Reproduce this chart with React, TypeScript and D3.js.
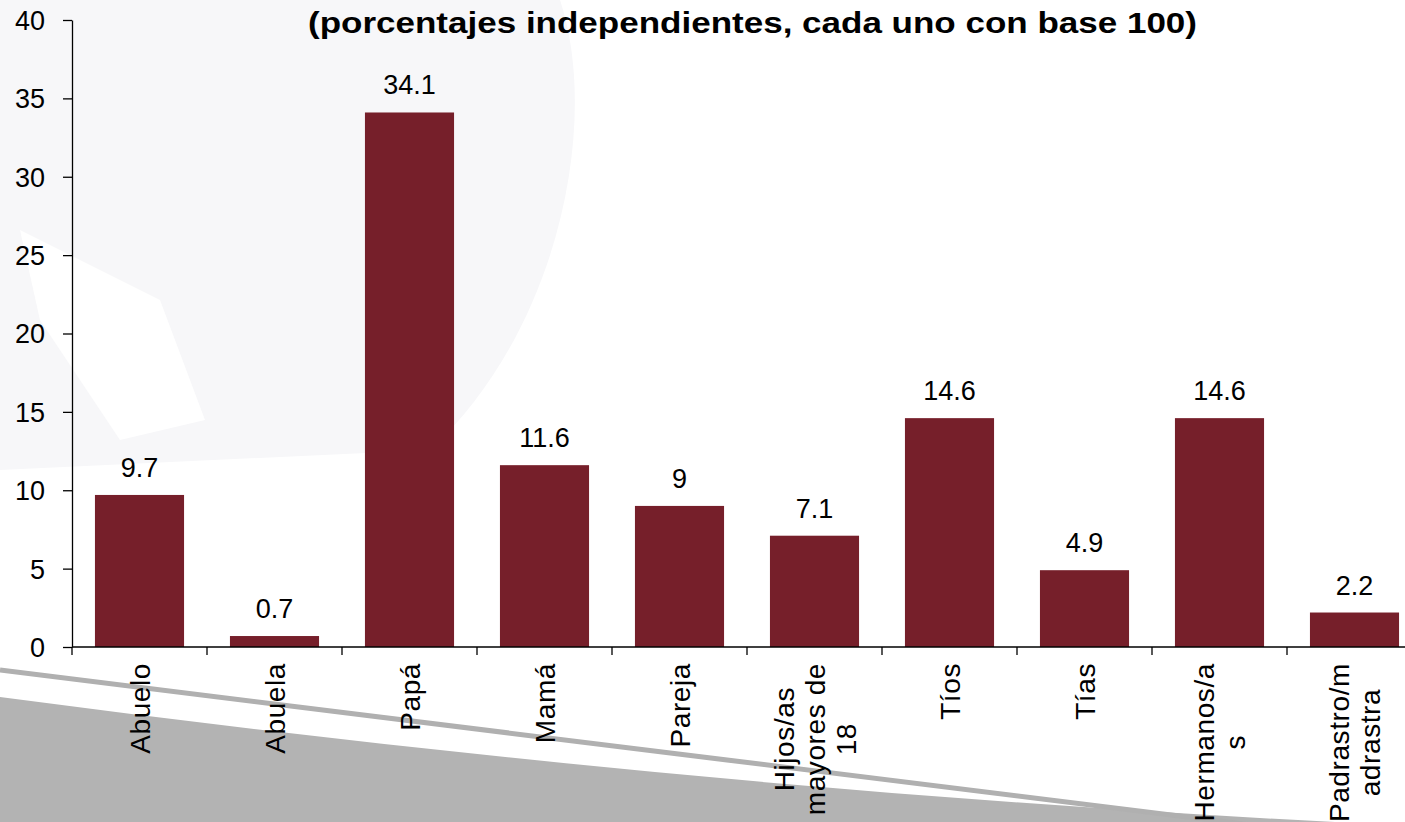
import { useEffect, useRef } from "react";
import * as d3 from "d3";

// data
const categories = [
  "Abuelo",
  "Abuela",
  "Papá",
  "Mamá",
  "Pareja",
  "Hijos/as\nmayores de\n18",
  "Tíos",
  "Tías",
  "Hermanos/a\ns",
  "Padrastro/m\nadrastra",
];
const values = [9.7, 0.7, 34.1, 11.6, 9, 7.1, 14.6, 4.9, 14.6, 2.2];
const yTicks = [0, 5, 10, 15, 20, 25, 30, 35, 40];
const title = "(porcentajes independientes, cada uno con base 100)";

const W = 1405;
const H = 822;
const FONT = "'Liberation Sans', Arial, sans-serif";

export default function App() {
  const ref = useRef<SVGSVGElement | null>(null);

  useEffect(() => {
    const svg = d3.select(ref.current);
    svg.selectAll("*").remove();

    const x0 = 72;
    const x = d3
      .scaleBand<string>()
      .domain(categories)
      .range([x0, x0 + 135 * categories.length])
      .paddingInner(0.34)
      .paddingOuter(0.17);
    const y = d3.scaleLinear().domain([0, 40]).range([647, 20]);

    // background decorations (faint watermark + grey swoosh)
    const bg = svg.append("g");
    bg.append("path")
      .attr("d", "M0,0 L560,0 C600,120 560,330 430,450 L0,470 Z")
      .attr("fill", "#f7f7f9");
    bg.append("path")
      .attr("d", "M20,230 L160,300 L205,420 L120,440 L40,320 Z")
      .attr("fill", "#ffffff");
    bg.append("path")
      .attr("d", "M0,697 Q700,790 1335,822 L0,822 Z")
      .attr("fill", "#b3b3b3");
    bg.append("path")
      .attr("d", "M0,670 Q640,748 1260,826")
      .attr("fill", "none")
      .attr("stroke", "#b0b0b0")
      .attr("stroke-width", 5);

    // title
    svg
      .append("text")
      .attr("x", 308)
      .attr("y", 33)
      .attr("font-family", FONT)
      .attr("font-weight", "bold")
      .attr("font-size", 29)
      .attr("textLength", 889)
      .attr("lengthAdjust", "spacingAndGlyphs")
      .attr("fill", "#000")
      .text(title);

    // bars
    svg
      .append("g")
      .selectAll("rect")
      .data(values)
      .join("rect")
      .attr("x", (_d, i) => x(categories[i]) as number)
      .attr("y", (d) => y(d))
      .attr("width", x.bandwidth())
      .attr("height", (d) => y(0) - y(d))
      .attr("fill", "#761F2A");

    // value labels
    svg
      .append("g")
      .selectAll("text")
      .data(values)
      .join("text")
      .attr("x", (_d, i) => (x(categories[i]) as number) + x.bandwidth() / 2)
      .attr("y", (d) => y(d) - 18)
      .attr("text-anchor", "middle")
      .attr("font-family", FONT)
      .attr("font-size", 27)
      .attr("fill", "#000")
      .text((d) => String(d));

    // y axis
    const yAxis = svg
      .append("g")
      .attr("transform", `translate(${x0},0)`)
      .call(d3.axisLeft(y).tickValues(yTicks).tickSize(9).tickPadding(18).tickSizeOuter(0));
    yAxis.select(".domain").attr("stroke", "#000").attr("stroke-width", 1.3);
    yAxis.selectAll(".tick line").attr("stroke", "#000").attr("stroke-width", 1.3);
    yAxis
      .selectAll(".tick text")
      .attr("font-family", FONT)
      .attr("font-size", 27)
      .attr("fill", "#000")
      .attr("dy", "0.35em");

    // x axis line and ticks between categories
    const xAxis = svg.append("g");
    xAxis
      .append("line")
      .attr("x1", x0)
      .attr("x2", W)
      .attr("y1", y(0))
      .attr("y2", y(0))
      .attr("stroke", "#000")
      .attr("stroke-width", 1.3);
    const step = x.step();
    xAxis
      .selectAll("line.tk")
      .data(d3.range(categories.length + 1))
      .join("line")
      .attr("class", "tk")
      .attr("x1", (i) => x0 + i * step)
      .attr("x2", (i) => x0 + i * step)
      .attr("y1", y(0))
      .attr("y2", y(0) + 8)
      .attr("stroke", "#000")
      .attr("stroke-width", 1.3);

    // rotated category labels: block anchored at top, lines centred on the longest one
    const lineGap = 31;
    categories.forEach((c) => {
      const lines = c.split("\n");
      const cx = (x(c) as number) + x.bandwidth() / 2;
      const g = xAxis
        .append("text")
        .attr("transform", `translate(${cx},${y(0) + 16}) rotate(-90)`)
        .attr("font-family", FONT)
        .attr("font-size", 28)
        .attr("letter-spacing", 0.6)
        .attr("fill", "#000");
      const spans = lines.map((l, j) =>
        g
          .append("tspan")
          .attr("y", (j - (lines.length - 1) / 2) * lineGap + 10)
          .attr("text-anchor", "middle")
          .text(l)
      );
      const maxLen = d3.max(spans, (s) => (s.node() as SVGTextContentElement).getComputedTextLength()) || 0;
      spans.forEach((s) => s.attr("x", -maxLen / 2));
    });
  }, []);

  return (
    <div style={{ position: "absolute", left: 0, top: 0, width: W, height: H, background: "#fff" }}>
      <svg ref={ref} width={W} height={H} />
    </div>
  );
}
